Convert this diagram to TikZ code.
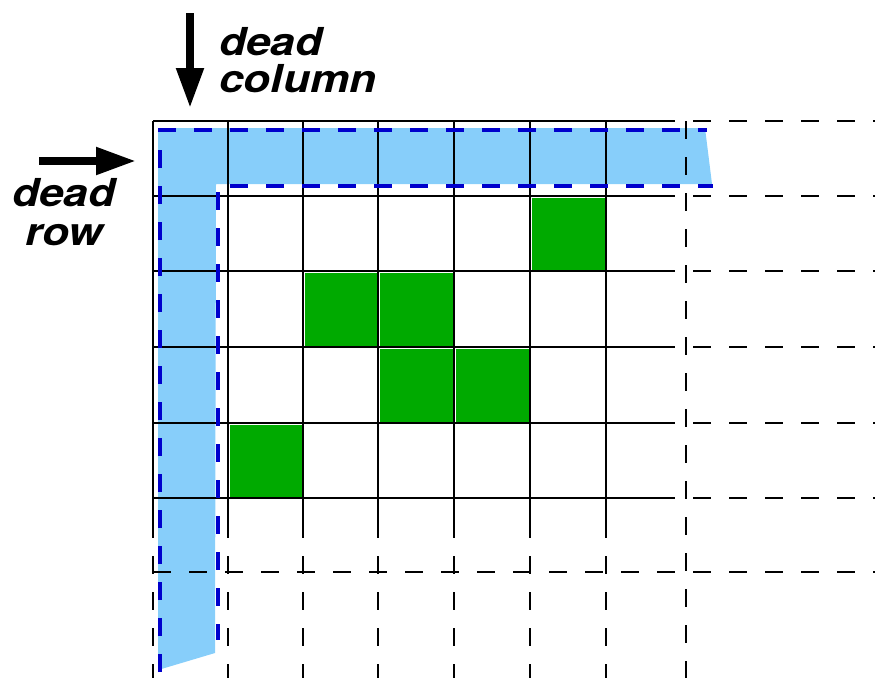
\documentclass[tikz,border=0pt]{standalone}
\usepackage{fontspec}
\newfontfamily\lblfont[FakeStretch=1.15]{TeX Gyre Heros}
\usetikzlibrary{arrows.meta,positioning}
\definecolor{deadblue}{RGB}{135,206,250}
\definecolor{edgeblue}{RGB}{0,0,204}
\definecolor{livegreen}{RGB}{0,170,0}
\tikzset{
    gridline/.style={line width=2.5pt, black},
    gridext/.style={line width=2.5pt, black, dash pattern=on 18pt off 18pt},
    deadband/.style={fill=deadblue, draw=none},
    deadedge/.style={line width=4.6pt, edgeblue, dash pattern=on 18pt off 18pt},
    livecell/.style={fill=livegreen, draw=white, line width=0.8pt},
    pointer/.style={line width=8pt, -{Triangle[length=40pt,width=26pt]}},
    tag/.style={font=\lblfont\bfseries\itshape\fontsize{38.5}{37}\selectfont,
                inner sep=0pt},
}

\begin{document}
\begin{tikzpicture}[x=1pt, y=-1pt]
    \useasboundingbox (0,0) rectangle (875,678);

    % dead row and column band
    \fill[deadband] (158,128) -- (705,128) -- (712,184) -- (216,184)
        -- (215,653) -- (158,670) -- cycle;

    % live cells
    \foreach \xa/\ya in {530/196, 303/271, 378/271, 378/347, 454/347, 228/423}
        \filldraw[livecell] (\xa+1,\ya+1) rectangle ++(74,74);

    % grid
    \foreach \x in {153,228,303,378,454,530,606} {
        \draw[gridline] (\x,121) -- (\x,538);
        \draw[gridext, dash phase=18pt] (\x,538) -- (\x,678);
    }
    \foreach \y in {121,196,271,347,423,498} {
        \draw[gridline] (153,\y) -- (675,\y);
        \draw[gridext, dash phase=18pt] (675,\y) -- (875,\y);
    }
    \draw[gridext] (686,121) -- (686,678);
    \draw[gridext] (153,572) -- (875,572);

    % band outline
    \draw[deadedge] (160,672) -- (160,130) -- (707,130);
    \draw[deadedge] (218,192) -- (218,640);
    \draw[deadedge] (230,186) -- (713,186);

    % pointers and labels
    \coordinate (coltail) at (190,13);
    \coordinate (colhead) at (190,108);
    \coordinate (rowtail) at (39,161);
    \coordinate (rowhead) at (136,161);
    \draw[pointer] (coltail) -- (colhead);
    \draw[pointer] (rowtail) -- (rowhead);

    \node[tag, align=left, anchor=north west] (colnote) at (219,27) {dead\\column};
    \node[tag, align=center, anchor=north] (rownote) at (64,178) {dead\\[2pt]row};
\end{tikzpicture}
\end{document}
